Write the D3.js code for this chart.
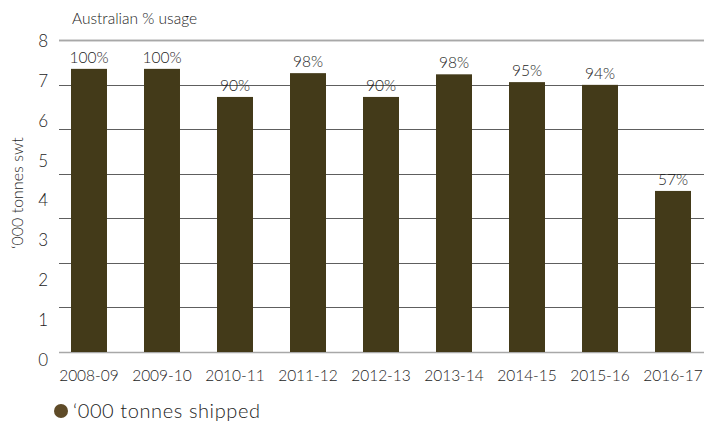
<!DOCTYPE html>
<html>
<head>
<meta charset="utf-8">
<script src="https://cdn.jsdelivr.net/npm/d3@7"></script>
<style>
  body { margin: 0; background: #fff; }
  svg text { font-family: "Lato", "Open Sans", sans-serif; font-weight: 300; fill: #1c1c1c; }
</style>
</head>
<body>
<div id="chart"></div>
<script>
// data
var years = ["2008-09", "2009-10", "2010-11", "2011-12", "2012-13", "2013-14", "2014-15", "2015-16", "2016-17"];
var shipped = [7.26, 7.26, 6.54, 7.15, 6.54, 7.12, 6.92, 6.85, 4.13];
var usage = ["100%", "100%", "90%", "98%", "90%", "98%", "95%", "94%", "57%"];
var yTicks = [0, 1, 2, 3, 4, 5, 6, 7, 8];

var width = 704, height = 425;

var svg = d3.select("#chart").append("svg")
    .attr("width", width)
    .attr("height", height);

var x = d3.scaleBand()
    .domain(years)
    .range([52.5, 709.5])
    .paddingInner(0.507)
    .paddingOuter(0.2534);

// bars use this one
var y = d3.scaleLinear().domain([0, 8]).range([352, 40]);
// the tick labels in the original sit a bit off the grid, own scale for them
var yLab = d3.scaleLinear().domain([0, 8]).range([360, 41]);

// grid: 7 bands between baseline and top
var gridVals = d3.range(0, 8).map(function(i) { return i * 8 / 7; });
gridVals.push(8);

svg.append("g").selectAll("line")
    .data(gridVals)
    .enter().append("line")
    .attr("x1", 59)
    .attr("x2", width)
    .attr("y1", function(d) { return Math.round(y(d)) + 0.5; })
    .attr("y2", function(d) { return Math.round(y(d)) + 0.5; })
    .attr("stroke", function(d, i) { return (i === 0 || d === 8) ? "#a8a8a8" : "#5e5e5e"; })
    .attr("stroke-width", function(d, i) { return (i === 0 || d === 8) ? 1.6 : 1.2; });

svg.append("g").selectAll("text")
    .data(yTicks)
    .enter().append("text")
    .attr("x", 48)
    .attr("y", function(d) { return yLab(d); })
    .attr("dy", "0.35em")
    .attr("text-anchor", "end")
    .attr("font-size", "17px")
    .text(function(d) { return d; });

svg.append("text")
    .attr("transform", "translate(23,193) rotate(-90)")
    .attr("text-anchor", "middle")
    .attr("font-size", "16px")
    .text("\u2018000 tonnes swt");

svg.append("text")
    .attr("x", 72)
    .attr("y", 24)
    .attr("font-size", "15.5px")
    .text("Australian % usage");

svg.append("g").selectAll("rect")
    .data(shipped)
    .enter().append("rect")
    .attr("x", function(d, i) { return x(years[i]); })
    .attr("width", x.bandwidth())
    .attr("y", function(d) { return y(d); })
    .attr("height", function(d) { return y(0) - y(d); })
    .attr("fill", "#433a19");

svg.append("g").selectAll("text")
    .data(shipped)
    .enter().append("text")
    .attr("x", function(d, i) { return x(years[i]) + x.bandwidth() / 2; })
    .attr("y", function(d) { return y(d) - 6; })
    .attr("text-anchor", "middle")
    .attr("font-size", "15.5px")
    .text(function(d, i) { return usage[i]; });

svg.append("g").selectAll("text")
    .data(years)
    .enter().append("text")
    .attr("x", function(d) { return x(d) + x.bandwidth() / 2; })
    .attr("y", 381)
    .attr("text-anchor", "middle")
    .attr("font-size", "15.5px")
    .text(function(d) { return d; });

// legend
svg.append("circle")
    .attr("cx", 61)
    .attr("cy", 411)
    .attr("r", 7)
    .attr("fill", "#5f4b28");

svg.append("text")
    .attr("x", 73)
    .attr("y", 418)
    .attr("font-size", "20px")
    .attr("letter-spacing", "0.6px")
    .text("\u2018000 tonnes shipped");
</script>
</body>
</html>
